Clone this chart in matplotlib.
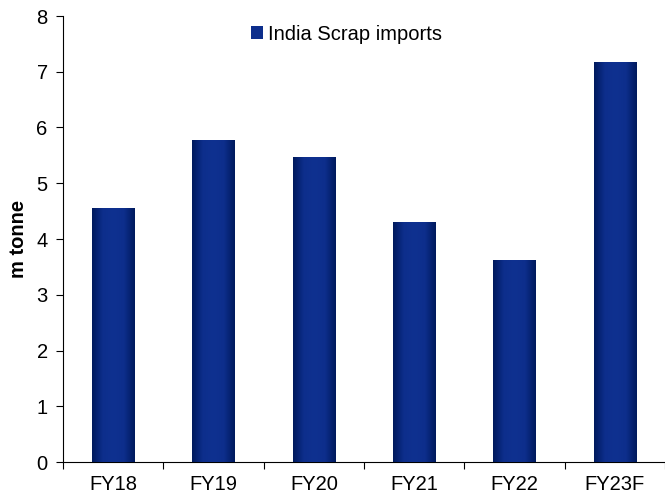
import matplotlib.pyplot as plt
import numpy as np
from matplotlib.colors import LinearSegmentedColormap
from matplotlib.patches import Patch

plt.rcParams["font.family"] = ["Liberation Sans", "DejaVu Sans"]

categories = ["FY18", "FY19", "FY20", "FY21", "FY22", "FY23F"]
imports_mt = [4.54, 5.76, 5.47, 4.29, 3.61, 7.17]

bar_width = 0.42
fs = 14.5
# dark edges, lighter navy through the middle of each bar
shade = LinearSegmentedColormap.from_list(
    "navy_shade", ["#001a5e", "#0d2e8c", "#0f3190", "#0d2e8c", "#001a5e"]
)
gradient = np.linspace(0, 1, 64).reshape(1, -1)

fig = plt.figure(figsize=(6.65, 4.98), dpi=100)
ax = fig.add_axes([63 / 665, 36 / 498, 602 / 665, 446 / 498])

x = np.arange(len(categories))
bars = ax.bar(x, imports_mt, width=bar_width, color="#0d2e8c", zorder=2)
for b in bars:
    x0, y0 = b.get_x(), b.get_y()
    ax.imshow(gradient, cmap=shade, aspect="auto", zorder=3,
              extent=(x0, x0 + b.get_width(), y0, y0 + b.get_height()))

ax.set_xlim(-0.5, len(categories) - 0.5)
ax.set_ylim(0, 8)
ax.set_yticks(range(0, 9))
ax.set_xticks(x)
ax.set_xticklabels(categories)
ax.set_xticks(np.arange(-0.5, len(categories)), minor=True)
ax.tick_params(axis="x", which="major", length=0, labelsize=fs, pad=9)
ax.tick_params(axis="x", which="minor", length=5, direction="out", width=0.8)
ax.tick_params(axis="y", length=5, direction="out", width=0.8, labelsize=fs, pad=6)

for side in ("top", "right"):
    ax.spines[side].set_visible(False)
ax.spines["left"].set_linewidth(0.8)
ax.spines["bottom"].set_linewidth(0.8)

ax.set_ylabel("m tonne", fontsize=fs, fontweight="bold", labelpad=6)

handle = Patch(facecolor="#0d2e8c", edgecolor="none")
fig.legend([handle], ["India Scrap imports"], loc="center left",
           bbox_to_anchor=(251 / 665, 1 - 34 / 498), frameon=False, fontsize=fs,
           handlelength=0.6, handleheight=0.6, handletextpad=0.25,
           borderpad=0, borderaxespad=0)

fig.savefig("out.png", dpi=100)
